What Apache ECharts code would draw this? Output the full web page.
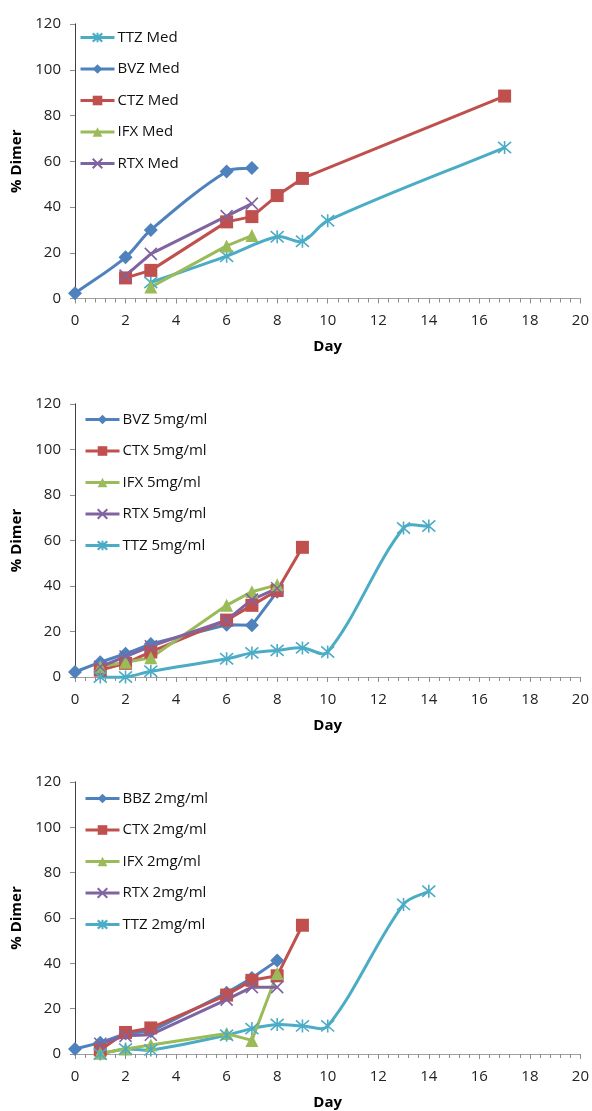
<!DOCTYPE html>
<html>
<head>
<meta charset="utf-8">
<script src="https://cdn.jsdelivr.net/npm/echarts@6/dist/echarts.min.js"></script>
<style>html,body{margin:0;padding:0;background:#fff}#c{width:592px;height:1111px}</style>
</head>
<body>
<div id="c"></div>
<script>
// ---------- Data ----------
const xTicks = [0, 2, 4, 6, 8, 10, 12, 14, 16, 18, 20];
const yTicks = [0, 20, 40, 60, 80, 100, 120];

// Panel 1: Med
const medTTZ_day = [3, 6, 8, 9, 10, 17];
const medTTZ_val = [7, 18.5, 27, 25, 34, 66];
const medBVZ_day = [0, 2, 3, 6, 7];
const medBVZ_val = [2.3, 18, 30, 55.5, 57];
const medCTZ_day = [2, 3, 6, 7, 8, 9, 17];
const medCTZ_val = [9, 12.3, 33.5, 35.8, 45, 52.5, 88.5];
const medIFX_day = [3, 6, 7];
const medIFX_val = [5, 23, 27.5];
const medRTX_day = [2, 3, 6, 7];
const medRTX_val = [10, 19.5, 36, 41.5];

// Panel 2: 5 mg/ml
const m5BVZ_day = [0, 1, 2, 3, 6, 7, 8];
const m5BVZ_val = [2.2, 6.5, 10.2, 14.5, 23, 22.7, 37.5];
const m5CTX_day = [1, 2, 3, 6, 7, 8, 9];
const m5CTX_val = [3, 6, 11, 25, 31.5, 38, 57];
const m5IFX_day = [1, 2, 3, 6, 7, 8];
const m5IFX_val = [4.5, 6.5, 8.5, 31.5, 37.5, 40.5];
const m5RTX_day = [1, 2, 3, 6, 7, 8];
const m5RTX_val = [4.5, 9, 13.5, 25, 34, 39];
const m5TTZ_day = [1, 2, 3, 6, 7, 8, 9, 10, 13, 14];
const m5TTZ_val = [0, 0, 2.5, 8, 10.6, 11.7, 12.8, 11, 65.5, 66.4];

// Panel 3: 2 mg/ml
const m2BBZ_day = [0, 1, 2, 3, 6, 7, 8];
const m2BBZ_val = [2.2, 5, 9, 10, 27, 33.5, 41.2];
const m2CTX_day = [1, 2, 3, 6, 7, 8, 9];
const m2CTX_val = [1.8, 9.5, 11.5, 26, 32.5, 34.5, 56.8];
const m2IFX_day = [1, 2, 3, 6, 7, 8];
const m2IFX_val = [0.3, 2.2, 4, 9, 6, 35.5];
const m2RTX_day = [1, 2, 3, 6, 7, 8];
const m2RTX_val = [4.5, 8, 8.5, 24, 29.5, 29.5];
const m2TTZ_day = [1, 2, 3, 6, 7, 8, 9, 10, 13, 14];
const m2TTZ_val = [0, 2.2, 1.8, 8.3, 11.2, 13, 12.4, 12.4, 66, 71.8];

// ---------- Styles ----------
const C = {
  TTZ: '#4BACC6', BVZ: '#4F81BD', CTZ: '#C0504D', IFX: '#9BBB59', RTX: '#8064A2'
};
const STAR = 'path://M5,0L5,10M0.7,0.7L9.3,9.3M0.7,9.3L9.3,0.7';
const XMARK = 'path://M0,0L10,10M0,10L10,0';
const SYM = {
  TTZ: {symbol: STAR, size: 13, stroke: true},
  BVZ: {symbol: 'diamond', size: 14},
  CTZ: {symbol: 'rect', size: 13},
  IFX: {symbol: 'triangle', size: 13},
  RTX: {symbol: XMARK, size: 12, stroke: true}
};
const FONT = 'Open Sans';

// Excel-like smoothed line drawn through the chart's own coordinate system
function curveSeries(name, kind, days, vals, gi) {
  const color = C[kind];
  const F = 1 / 3;
  const dist = (a, b) => Math.hypot(a[0] - b[0], a[1] - b[1]);
  return {
    name: name + ' curve', type: 'custom', xAxisIndex: gi * 2, yAxisIndex: gi * 2,
    data: days.map((d, i) => [d, vals[i]]),
    encode: {x: 0, y: 1}, silent: true, animation: false,
    renderItem: function (params, api) {
      const i = params.dataIndex, n = days.length;
      if (i >= n - 1) return null;
      const P = k => {
        const j = Math.max(0, Math.min(n - 1, k));
        return api.coord([days[j], vals[j]]);
      };
      const p0 = P(i - 1), p1 = P(i), p2 = P(i + 1), p3 = P(i + 2);
      const d01 = dist(p0, p1), d12 = dist(p1, p2), d23 = dist(p2, p3);
      const a = F * d12 / (d01 + d12 || 1);
      const b = F * d12 / (d12 + d23 || 1);
      return {
        type: 'bezierCurve',
        shape: {
          x1: p1[0], y1: p1[1], x2: p2[0], y2: p2[1],
          cpx1: p1[0] + (p2[0] - p0[0]) * a, cpy1: p1[1] + (p2[1] - p0[1]) * a,
          cpx2: p2[0] - (p3[0] - p1[0]) * b, cpy2: p2[1] - (p3[1] - p1[1]) * b
        },
        style: {stroke: color, lineWidth: 3, fill: 'none', lineCap: 'round'}
      };
    }
  };
}

function mk(name, kind, days, vals, gi, smooth) {
  const c = C[kind], s = SYM[kind];
  const line = {
    name: name, type: 'line', xAxisIndex: gi * 2, yAxisIndex: gi * 2,
    data: days.map((d, i) => [d, vals[i]]),
    smooth: false,
    symbol: s.symbol, symbolSize: s.size,
    lineStyle: {color: c, width: 3, opacity: smooth ? 0 : 1},
    itemStyle: s.stroke ? {color: c, borderColor: c, borderWidth: 1.6}
                        : {color: c, borderWidth: 0},
    emphasis: {disabled: true},
    animation: false
  };
  return smooth ? [curveSeries(name, kind, days, vals, gi), line] : [line];
}

const grids = [
  {left: 75, right: 10, top: 24, height: 274.5},
  {left: 75, right: 10, top: 404, height: 273},
  {left: 75, right: 10, top: 782, height: 273.5}
];

const xAxes = [], yAxes = [];
grids.forEach((g, gi) => {
  xAxes.push({
    type: 'value', gridIndex: gi, min: 0, max: 20, interval: 2,
    name: 'Day', nameLocation: 'middle', nameGap: 41,
    nameTextStyle: {fontFamily: FONT, fontWeight: 'bold', fontSize: 15, color: '#000'},
    axisLine: {lineStyle: {color: '#8C8C8C', width: 1}},
    axisTick: {show: true, length: 5, lineStyle: {color: '#8C8C8C'}},
    minorTick: {show: true, splitNumber: 5, length: 4, lineStyle: {color: '#8C8C8C'}},
    axisLabel: {fontFamily: FONT, fontSize: 15, color: '#222', margin: 15,
      formatter: v => xTicks.includes(v) ? String(v) : ''},
    splitLine: {show: false}
  });
  xAxes.push({
    type: 'value', gridIndex: gi, min: 0, max: 20, position: 'top',
    axisLine: {show: true, lineStyle: {color: '#A0A0A0'}},
    axisTick: {show: false}, axisLabel: {show: false}, splitLine: {show: false}
  });
  yAxes.push({
    type: 'value', gridIndex: gi, min: 0, max: 120, interval: 20,
    name: '% Dimer', nameLocation: 'middle', nameGap: 50, nameRotate: 90,
    nameTextStyle: {fontFamily: FONT, fontWeight: 'bold', fontSize: 15, color: '#000'},
    axisLine: {show: true, lineStyle: {color: '#8C8C8C', width: 1}},
    axisTick: {show: true, length: 5, lineStyle: {color: '#8C8C8C'}},
    axisLabel: {fontFamily: FONT, fontSize: 15, color: '#222', margin: 14,
      formatter: v => yTicks.includes(v) ? String(v) : ''},
    splitLine: {show: false}
  });
  yAxes.push({
    type: 'value', gridIndex: gi, min: 0, max: 120, position: 'right',
    axisLine: {show: true, lineStyle: {color: '#404040'}},
    axisTick: {show: false}, axisLabel: {show: false}, splitLine: {show: false}
  });
});

const series = [].concat(
  mk('TTZ Med', 'TTZ', medTTZ_day, medTTZ_val, 0, true),
  mk('BVZ Med', 'BVZ', medBVZ_day, medBVZ_val, 0, true),
  mk('CTZ Med', 'CTZ', medCTZ_day, medCTZ_val, 0, false),
  mk('IFX Med', 'IFX', medIFX_day, medIFX_val, 0, false),
  mk('RTX Med', 'RTX', medRTX_day, medRTX_val, 0, false),

  mk('BVZ 5mg/ml', 'BVZ', m5BVZ_day, m5BVZ_val, 1, false),
  mk('CTX 5mg/ml', 'CTZ', m5CTX_day, m5CTX_val, 1, false),
  mk('IFX 5mg/ml', 'IFX', m5IFX_day, m5IFX_val, 1, false),
  mk('RTX 5mg/ml', 'RTX', m5RTX_day, m5RTX_val, 1, false),
  mk('TTZ 5mg/ml', 'TTZ', m5TTZ_day, m5TTZ_val, 1, true),

  mk('BBZ 2mg/ml', 'BVZ', m2BBZ_day, m2BBZ_val, 2, false),
  mk('CTX 2mg/ml', 'CTZ', m2CTX_day, m2CTX_val, 2, false),
  mk('IFX 2mg/ml', 'IFX', m2IFX_day, m2IFX_val, 2, false),
  mk('RTX 2mg/ml', 'RTX', m2RTX_day, m2RTX_val, 2, false),
  mk('TTZ 2mg/ml', 'TTZ', m2TTZ_day, m2TTZ_val, 2, true)
);

function legend(names, top, left) {
  return {
    data: names, orient: 'vertical', left: left, top: top,
    itemWidth: 34, itemHeight: 12, itemGap: 16.5,
    lineStyle: {width: 3, opacity: 1},
    textStyle: {fontFamily: FONT, fontSize: 15, color: '#111', padding: [0, 0, 0, -2]},
    selectedMode: false
  };
}

const chart = echarts.init(document.getElementById('c'), null, {renderer: 'canvas'});
chart.setOption({
  animation: false,
  backgroundColor: '#fff',
  grid: grids,
  xAxis: xAxes,
  yAxis: yAxes,
  legend: [
    legend(['TTZ Med', 'BVZ Med', 'CTZ Med', 'IFX Med', 'RTX Med'], 25, 74),
    legend(['BVZ 5mg/ml', 'CTX 5mg/ml', 'IFX 5mg/ml', 'RTX 5mg/ml', 'TTZ 5mg/ml'], 407, 79),
    legend(['BBZ 2mg/ml', 'CTX 2mg/ml', 'IFX 2mg/ml', 'RTX 2mg/ml', 'TTZ 2mg/ml'], 786, 79)
  ],
  series: series
});
</script>
</body>
</html>
